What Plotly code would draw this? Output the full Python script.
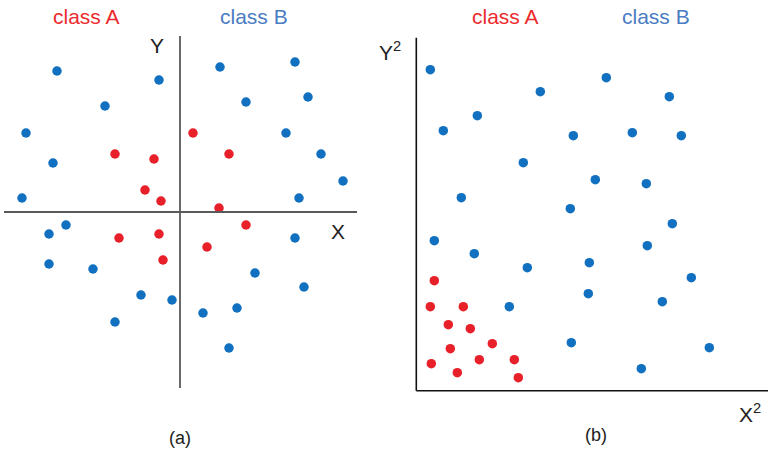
import plotly.graph_objects as go

# ---- Panel (a): original X / Y feature space ----
a_blue_x = [-12.3, -2.1, -7.5, -15.4, -12.7, -15.8, 4.0, 11.5, 6.6, 12.8, 10.6, 14.1, 16.3, 11.9,
            -11.4, -13.1, -13.1, -8.7, -3.9, -0.8, -6.5, 11.5, 7.5, 12.4, 2.3, 5.7, 4.9]
a_blue_y = [14.1, 13.2, 10.6, 7.9, 4.9, 1.4, 14.5, 15.0, 11.0, 11.5, 7.9, 5.8, 3.1, 1.4,
            -1.3, -2.2, -5.2, -5.7, -8.3, -8.8, -11.0, -2.6, -6.1, -7.5, -10.1, -9.6, -13.6]
a_red_x = [-6.5, -2.6, -3.5, -1.9, 1.3, 4.9, 3.9, 6.6, -6.1, -2.1, -1.7, 2.7]
a_red_y = [5.8, 5.3, 2.2, 1.1, 7.9, 5.8, 0.4, -1.3, -2.6, -2.2, -4.8, -3.5]

# ---- Panel (b): squared feature space ----
b_blue_x = [1.4, 12.4, 19.0, 25.3, 6.1, 2.7, 15.7, 21.6, 26.5, 10.7, 17.9, 23.0, 4.5, 15.4,
            25.6, 1.8, 5.8, 11.1, 17.3, 23.1, 27.5, 17.2, 24.6, 9.3, 15.5, 29.3, 22.5]
b_blue_y = [32.1, 29.9, 31.3, 29.4, 27.5, 26.0, 25.5, 25.8, 25.5, 22.8, 21.1, 20.7, 19.3, 18.2,
            16.7, 15.0, 13.7, 12.3, 12.8, 14.5, 11.3, 9.7, 8.9, 8.4, 4.8, 4.3, 2.2]
b_red_x = [1.8, 1.4, 4.7, 3.2, 5.4, 7.6, 3.4, 6.3, 9.8, 1.5, 4.1, 10.2]
b_red_y = [11.0, 8.4, 8.4, 6.6, 6.2, 4.7, 4.2, 3.1, 3.1, 2.7, 1.8, 1.3]

W, H = 768, 453
BLUE = "#1170bf"
RED = "#e8202a"
FONT = "Liberation Sans, Arial, sans-serif"


def px(x):
    return x / W


def py(y):
    return 1 - y / H


fig = go.Figure()
marker_size = 9.5

fig.add_trace(go.Scatter(x=a_blue_x, y=a_blue_y, mode="markers",
                         marker=dict(color=BLUE, size=marker_size, line=dict(width=0)),
                         xaxis="x", yaxis="y"))
fig.add_trace(go.Scatter(x=a_red_x, y=a_red_y, mode="markers",
                         marker=dict(color=RED, size=marker_size, line=dict(width=0)),
                         xaxis="x", yaxis="y"))
fig.add_trace(go.Scatter(x=b_blue_x, y=b_blue_y, mode="markers",
                         marker=dict(color=BLUE, size=marker_size, line=dict(width=0)),
                         xaxis="x2", yaxis="y2"))
fig.add_trace(go.Scatter(x=b_red_x, y=b_red_y, mode="markers",
                         marker=dict(color=RED, size=marker_size, line=dict(width=0)),
                         xaxis="x2", yaxis="y2"))

hidden = dict(visible=False, showgrid=False, zeroline=False, fixedrange=True)

# panel (a): 10 px per unit, origin at (180, 212)
fig.update_layout(
    xaxis=dict(hidden, range=[-18, 18], domain=[px(0), px(360)]),
    yaxis=dict(hidden, range=[-18, 18], domain=[py(392), py(32)]),
    # panel (b): 10 px per unit, origin at (416.3, 390.7)
    xaxis2=dict(hidden, range=[-1, 35.17], domain=[px(406.3), 1], anchor="y2"),
    yaxis2=dict(hidden, range=[-1, 36], domain=[py(400.7), py(30.7)], anchor="x2"),
)

shapes = [
    dict(type="line", xref="x", yref="y", x0=0, x1=0, y0=-17.6, y1=17.6,
         line=dict(color="#5a5a5a", width=1.8)),
    dict(type="line", xref="x", yref="y", x0=-17.6, x1=17.7, y0=0, y1=0,
         line=dict(color="#5a5a5a", width=1.8)),
    dict(type="line", xref="x2", yref="y2", x0=0, x1=0, y0=0, y1=35.3,
         line=dict(color="#111111", width=1.6)),
    dict(type="line", xref="x2", yref="y2", x0=0, x1=35.2, y0=0, y1=0,
         line=dict(color="#111111", width=1.6)),
]


def label(text, x, y, size, color="#222222"):
    return dict(text=text, x=px(x), y=py(y), xref="paper", yref="paper",
                xanchor="center", yanchor="middle", showarrow=False,
                font=dict(family=FONT, size=size, color=color))


annotations = [
    label("class A", 86, 17, 21, "#ec2a2e"),
    label("class B", 254, 17, 21, "#4a7cc3"),
    label("class A", 505, 17, 21, "#ec2a2e"),
    label("class B", 656, 17, 21, "#4a7cc3"),
    label("Y", 157, 46, 21),
    label("X", 338, 231, 21),
    label("Y<sup>2</sup>", 390, 51, 21),
    label("X<sup>2</sup>", 750, 413, 21),
    label("(a)", 180, 438, 18),
    label("(b)", 596, 435, 18),
]

fig.update_layout(
    width=W, height=H,
    margin=dict(l=0, r=0, t=0, b=0),
    paper_bgcolor="white", plot_bgcolor="white",
    showlegend=False,
    shapes=shapes,
    annotations=annotations,
)

fig.write_html("out.html")
